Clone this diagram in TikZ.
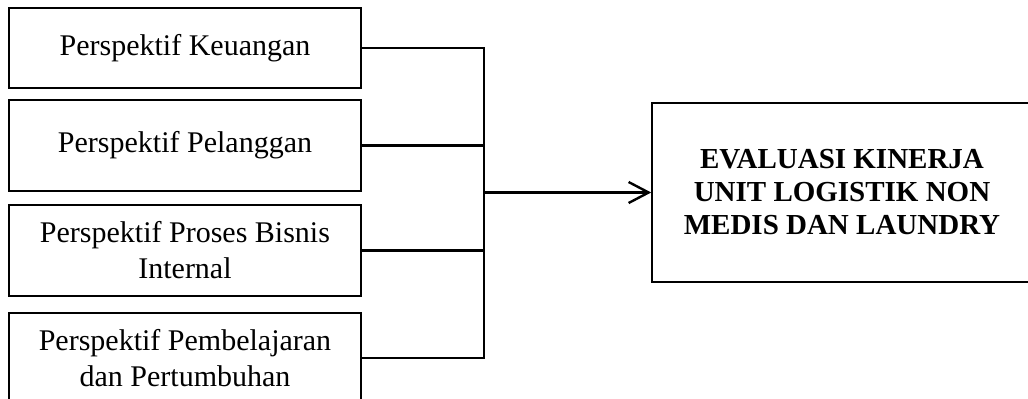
\documentclass[tikz,border=0pt]{standalone}
\usepackage{fontspec}
\setmainfont{Liberation Serif}
\usetikzlibrary{arrows.meta}

\begin{document}
\begin{tikzpicture}[x=.5pt,y=-.5pt,
    box/.style={draw,line width=.8pt,inner sep=0pt,align=center},
    link/.style={line width=1.2pt,line cap=rect}]
  \useasboundingbox (0,0) rectangle (1028,398);
  \foreach \nm/\y/\h/\txt in {%
    keu/48/40/Perspektif Keuangan,
    pel/145.5/45.5/Perspektif Pelanggan,
    pro/250.5/45.5/{Perspektif Proses Bisnis\\Internal},
    pem/358/45/{Perspektif Pembelajaran\\dan Pertumbuhan}}{%
      \node[box,minimum width=176pt,minimum height=\h pt,
        font=\fontsize{15}{18}\selectfont] (\nm) at (185,\y) {\txt};
  }
  \node[box,minimum width=190pt,minimum height=89.5pt,
    font=\fontsize{14.5}{16.5}\selectfont\bfseries] (eval) at (842,192.5)
    {EVALUASI KINERJA\\UNIT LOGISTIK NON\\MEDIS DAN LAUNDRY};
  \coordinate (jn) at (484,192.5);
  \foreach \nm in {keu,pel,pro,pem}{%
    \draw[link] (\nm.east) -- (\nm.east -| jn);
  }
  \draw[link] (keu.east -| jn) -- (pem.east -| jn);
  \draw[link,line cap=butt,-{Straight Barb[length=10pt,width=10.5pt]}] (jn) -- (eval.west);
\end{tikzpicture}
\end{document}
